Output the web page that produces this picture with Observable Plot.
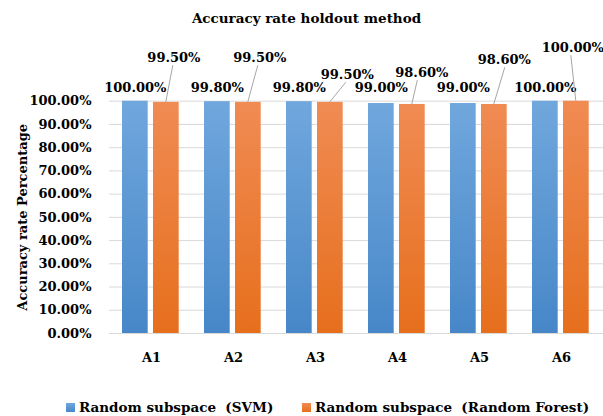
<!DOCTYPE html>
<html>
<head>
<meta charset="utf-8">
<script src="https://cdn.jsdelivr.net/npm/d3@7"></script>
<script src="https://cdn.jsdelivr.net/npm/@observablehq/plot@0.6"></script>
<style>
  html, body { margin: 0; padding: 0; background: #fff; }
  body { font-family: "DejaVu Serif", serif; font-weight: bold; color: #000; width: 603px; height: 416px; overflow: hidden; }
  #title { height: 36px; line-height: 36px; text-align: center; font-size: 13.5px; padding-left: 10px; box-sizing: border-box; width: 603px; }
  #chart { height: 350px; }
  #legend { position: relative; height: 30px; font-size: 13.5px; }
  .item { position: absolute; top: 13px; height: 16px; line-height: 16px; white-space: pre; }
  .sw { display: inline-block; width: 9px; height: 9px; margin-right: 4px; vertical-align: 0px; }
</style>
</head>
<body>
<div id="title"></div>
<div id="chart"></div>
<div id="legend"></div>
<script>
// ---- data ----
const chartTitle = "Accuracy rate holdout method";
const yTitle = "Accuracy rate Percentage";
const categories = ["A1", "A2", "A3", "A4", "A5", "A6"];
const seriesNames = ["Random subspace  (SVM)", "Random subspace  (Random Forest)"];
const svmValues = [100.0, 99.8, 99.8, 99.0, 99.0, 100.0];
const rfValues = [99.5, 99.5, 99.5, 98.6, 98.6, 100.0];
const yTicks = [0, 10, 20, 30, 40, 50, 60, 70, 80, 90, 100];

// annotation layout for the Random Forest callouts (pixels)
const rfLabelDx = [7.6, 11.5, 17, 9.5, 10, -3.5];
const rfLabelDy = [-48, -48, -31, -33, -46, -58];
const rfLineTopDx = [7, 10, 16, 5.5, 11, -5];

const colors = { svm: "#5b9bd5", rf: "#ed7d31" };

const svm = categories.map((c, i) => ({ category: c, value: svmValues[i] }));
const rf = categories.map((c, i) => ({ category: c, value: rfValues[i] }));
const pct = d => d.value.toFixed(2) + "%";

document.getElementById("title").textContent = chartTitle;

const marginTop = 64.7;
const blueDx = -16.2, orangeDx = 14.8;

const plot = Plot.plot({
  width: 603,
  height: 350,
  marginTop,
  marginBottom: 53,
  marginLeft: 109,
  marginRight: 0,
  style: { fontFamily: "'DejaVu Serif', serif", fontWeight: "bold", fontSize: "13px", color: "#000", background: "#fff", overflow: "visible" },
  x: { type: "band", domain: categories, padding: 0 },
  y: { domain: [0, 100] },
  marks: [
    Plot.ruleY(yTicks, { stroke: "#d9d9d9", strokeWidth: 1 }),
    Plot.barY(svm, { x: "category", y: "value", fill: "url(#gBlue)", insetLeft: 12, insetRight: 44.3, ariaLabel: "svm-bars" }),
    Plot.barY(rf, { x: "category", y: "value", fill: "url(#gOrange)", insetLeft: 43, insetRight: 13.3, ariaLabel: "rf-bars" }),
    Plot.axisY({ ticks: yTicks, tickSize: 0, tickPadding: 18, tickFormat: d => d.toFixed(2) + "%", label: null, fontSize: 13 }),
    Plot.axisX({ tickSize: 0, tickPadding: 19, label: null, fontSize: 13 }),
    Plot.text(svm, { x: "category", frameAnchor: "top", text: pct, dx: blueDx, dy: -18.7, fontSize: 13 }),
    ...categories.map((c, i) =>
      Plot.text([rf[i]], { x: "category", frameAnchor: "top", text: pct, dx: orangeDx + rfLabelDx[i], dy: rfLabelDy[i], fontSize: 13 })
    ),
    Plot.text([yTitle], { frameAnchor: "left", textAnchor: "middle", rotate: -90, dx: -87, fontSize: 13 })
  ]
});

// gradients and shadow
const svg = d3.select(plot);
const defs = svg.insert("defs", ":first-child");
function grad(id, top, bottom) {
  const g = defs.append("linearGradient").attr("id", id).attr("x1", 0).attr("y1", 0).attr("x2", 0).attr("y2", 1);
  g.append("stop").attr("offset", "0%").attr("stop-color", top);
  g.append("stop").attr("offset", "100%").attr("stop-color", bottom);
}
grad("gBlue", "#70a7dd", "#4787c8");
grad("gOrange", "#f08b53", "#e66f1d");
const f = defs.append("filter").attr("id", "shadow").attr("x", "-20%").attr("y", "-5%").attr("width", "150%").attr("height", "115%");
f.append("feDropShadow").attr("dx", 1.2).attr("dy", 1).attr("stdDeviation", 1.3).attr("flood-color", "#000").attr("flood-opacity", 0.35);
svg.selectAll('[aria-label="svm-bars"], [aria-label="rf-bars"]').attr("filter", "url(#shadow)");

// leader lines for the Random Forest callouts, positioned with Plot's scales
const xs = plot.scale("x"), ys = plot.scale("y");
const leaders = svg.append("g").attr("stroke", "#a6a6a6").attr("stroke-width", 1);
rf.forEach((d, i) => {
  const cx = xs.apply(d.category) + xs.bandwidth / 2 + orangeDx;
  leaders.append("line")
    .attr("x1", cx).attr("y1", ys.apply(d.value))
    .attr("x2", cx + rfLineTopDx[i]).attr("y2", marginTop + rfLabelDy[i] + 12.5);
});

document.getElementById("chart").appendChild(plot);

// legend
const legend = d3.select("#legend");
[[66, colors.svm], [302, colors.rf]].forEach(([left, col], i) => {
  const it = legend.append("div").attr("class", "item").style("left", left + "px");
  it.append("span").attr("class", "sw").style("background", i === 0 ? "linear-gradient(#70a7dd,#4787c8)" : "linear-gradient(#f08b53,#e66f1d)");
  it.append("span").text(seriesNames[i]);
});
</script>
</body>
</html>
